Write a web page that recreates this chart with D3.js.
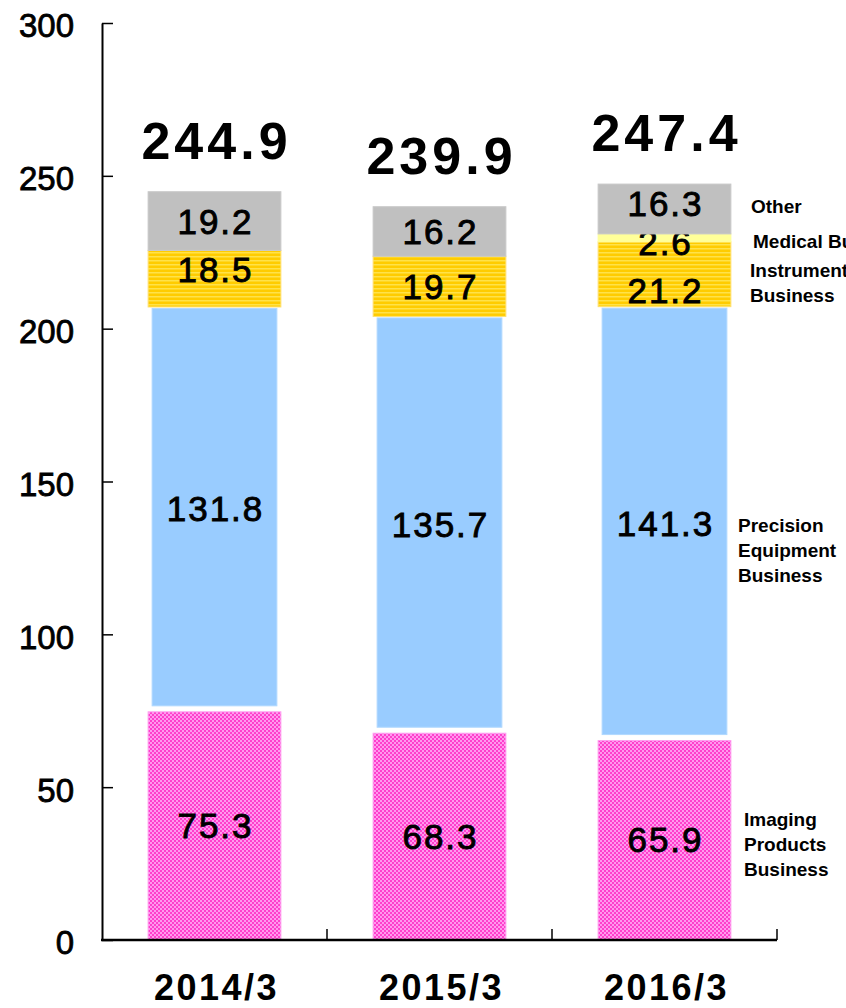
<!DOCTYPE html>
<html>
<head>
<meta charset="utf-8">
<script src="https://cdn.jsdelivr.net/npm/d3@7"></script>
<style>
  body { margin: 0; background: #fff; }
  svg { display: block; }
</style>
</head>
<body>
<script>
// values (billion yen)
var categories = ["2014/3", "2015/3", "2016/3"];
var imaging = [75.3, 68.3, 65.9];
var precision = [131.8, 135.7, 141.3];
var instruments = [18.5, 19.7, 21.2];
var medical = [0, 0, 2.6];
var other = [19.2, 16.2, 16.3];
var totals = [244.9, 239.9, 247.4];
var yTicks = [0, 50, 100, 150, 200, 250, 300];

var seriesKeys = ["imaging", "precision", "instruments", "medical", "other"];
var seriesNames = {
    imaging: ["Imaging", "Products", "Business"],
    precision: ["Precision", "Equipment", "Business"],
    instruments: ["Instrument", "Business"],
    medical: ["Medical Business"],
    other: ["Other"]
};

var rows = categories.map(function(c, i) {
    return {cat: c, imaging: imaging[i], precision: precision[i],
            instruments: instruments[i], medical: medical[i], other: other[i], total: totals[i]};
});

var width = 846, height = 1008;
var svg = d3.select("body").append("svg").attr("width", width).attr("height", height);
var defs = svg.append("defs");

// dotted magenta fill
var pk = defs.append("pattern").attr("id", "pinkDots")
    .attr("patternUnits", "userSpaceOnUse").attr("width", 4).attr("height", 4);
pk.append("rect").attr("width", 4).attr("height", 4).attr("fill", "#ff3fcc");
pk.append("rect").attr("width", 2).attr("height", 2).attr("fill", "#ff99ee");
pk.append("rect").attr("x", 2).attr("y", 2).attr("width", 2).attr("height", 2).attr("fill", "#ff99ee");

// striped gold fill
var gd = defs.append("pattern").attr("id", "goldStripes")
    .attr("patternUnits", "userSpaceOnUse").attr("width", 4).attr("height", 4);
gd.append("rect").attr("width", 4).attr("height", 4).attr("fill", "#ffcc00");
gd.append("rect").attr("width", 4).attr("height", 1.5).attr("fill", "#ffe24a");

var fills = {
    imaging: "url(#pinkDots)",
    precision: "#99ccff",
    instruments: "url(#goldStripes)",
    medical: "#ffff99",
    other: "#c0c0c0"
};
var edges = {
    imaging: "#ff9ef0",
    precision: "#b0d8ff",
    instruments: "#ffe070",
    medical: "#ffff99",
    other: "#c8c8c8"
};

var x = d3.scaleBand().domain(categories).range([102, 777]);
var y = d3.scaleLinear().domain([0, 300]).range([940, 23]);
var barW = x.bandwidth() * 0.59;

var stack = d3.stack().keys(seriesKeys)(rows);

// bars
var layers = svg.append("g").selectAll("g").data(stack).enter().append("g");
layers.selectAll("rect")
    .data(function(s) { return s.map(function(d) { d.key = s.key; return d; }); })
    .enter().filter(function(d) { return d[1] - d[0] > 0; })
    .append("rect")
    .attr("x", function(d) {
        var cx = x(d.data.cat) + x.bandwidth() / 2 - barW / 2;
        return d.key == "precision" ? cx + 4 : cx;
    })
    .attr("width", function(d) { return d.key == "precision" ? barW - 8 : barW; })
    .attr("y", function(d) {
        var top = y(d[1]);
        if (d.key == "precision") return top + 1.5;
        if (d.key == "imaging") return top + 2;
        return top;
    })
    .attr("height", function(d) {
        var h = y(d[0]) - y(d[1]);
        if (d.key == "precision") return h - 5.5;
        if (d.key == "imaging") return h - 2;
        return h;
    })
    .attr("fill", function(d) { return fills[d.key]; })
    .attr("stroke", function(d) { return edges[d.key]; })
    .attr("stroke-width", 1);

// segment value labels (a few nudged as in the original)
var nudge = {"instruments|2014/3": -10, "other|2016/3": -6, "medical|2016/3": 4, "instruments|2016/3": 16};
layers.selectAll("text")
    .data(function(s) { return s.map(function(d) { d.key = s.key; return d; }); })
    .enter().filter(function(d) { return d[1] - d[0] > 0; })
    .append("text")
    .attr("x", function(d) { return x(d.data.cat) + x.bandwidth() / 2 + 1; })
    .attr("y", function(d) {
        return (y(d[0]) + y(d[1])) / 2 + 13 + (nudge[d.key + "|" + d.data.cat] || 0);
    })
    .attr("text-anchor", "middle")
    .style("font-family", "'Liberation Sans', Arial, sans-serif")
    .style("font-size", "35px")
    .style("letter-spacing", "2px")
    .attr("fill", "#000")
    .attr("stroke", "#000")
    .attr("stroke-width", 0.9)
    .text(function(d) { return d3.format(".1f")(d[1] - d[0]); });

// totals above bars
svg.append("g").selectAll("text").data(rows).enter().append("text")
    .attr("x", function(d) { return x(d.cat) + x.bandwidth() / 2 + 2; })
    .attr("y", function(d) { return y(d.imaging + d.precision + d.instruments + d.medical + d.other) - 33; })
    .attr("text-anchor", "middle")
    .style("font-family", "'Liberation Sans', Arial, sans-serif")
    .style("font-size", "52px")
    .style("font-weight", "bold")
    .style("letter-spacing", "4px")
    .text(function(d) { return d3.format(".1f")(d.total); });

// y axis, ticks pointing inward
var yAxis = svg.append("g")
    .attr("transform", "translate(102,0)")
    .call(d3.axisLeft(y).tickValues(yTicks).tickSize(-11).tickSizeOuter(0).tickPadding(28));
yAxis.select(".domain").attr("stroke", "#000").attr("stroke-width", 2);
yAxis.selectAll(".tick line").attr("stroke", "#000").attr("stroke-width", 1.5);
yAxis.selectAll(".tick text")
    .attr("dy", "0.42em")
    .attr("fill", "#000")
    .attr("stroke", "#000")
    .attr("stroke-width", 0.8)
    .style("font-family", "'Liberation Sans', Arial, sans-serif")
    .style("font-size", "33px");

// x axis with boundary ticks
var xAxis = svg.append("g");
xAxis.append("line")
    .attr("x1", 101).attr("x2", x.range()[1])
    .attr("y1", y(0)).attr("y2", y(0))
    .attr("stroke", "#000").attr("stroke-width", 2.5);
xAxis.selectAll("line.tk").data(categories).enter().append("line")
    .attr("class", "tk")
    .attr("x1", function(c) { return x(c) + x.bandwidth(); })
    .attr("x2", function(c) { return x(c) + x.bandwidth(); })
    .attr("y1", y(0)).attr("y2", y(0) - 11)
    .attr("stroke", "#000").attr("stroke-width", 1.5);
xAxis.selectAll("text").data(categories).enter().append("text")
    .attr("x", function(c) { return x(c) + x.bandwidth() / 2 + 2; })
    .attr("y", 1000)
    .attr("text-anchor", "middle")
    .style("font-family", "'Liberation Sans', Arial, sans-serif")
    .style("font-size", "36px")
    .style("font-weight", "bold")
    .style("letter-spacing", "2.5px")
    .text(function(c) { return c; });

// series names beside the last bar (clipped at the right edge like the original)
var last = stack.map(function(s) { return {key: s.key, d: s[s.length - 1]}; });
var legendPos = {
    other: {x: 751, dy: 4},
    medical: {x: 753, dy: 10},
    instruments: {x: 750, dy: 3},
    precision: {x: 738, dy: 9},
    imaging: {x: 744, dy: -13}
};
var lg = svg.append("g").selectAll("text").data(last).enter().append("text")
    .attr("x", function(s) { return legendPos[s.key].x; })
    .attr("y", function(s) { return (y(s.d[0]) + y(s.d[1])) / 2 + legendPos[s.key].dy; })
    .style("font-family", "'Liberation Sans', Arial, sans-serif")
    .style("font-size", "19px")
    .style("font-weight", "bold")
    .attr("fill", "#000");
lg.each(function(s) {
    var t = d3.select(this);
    seriesNames[s.key].forEach(function(line, i) {
        t.append("tspan")
            .attr("x", legendPos[s.key].x)
            .attr("dy", i == 0 ? 0 : 25)
            .text(line);
    });
});
</script>
</body>
</html>
